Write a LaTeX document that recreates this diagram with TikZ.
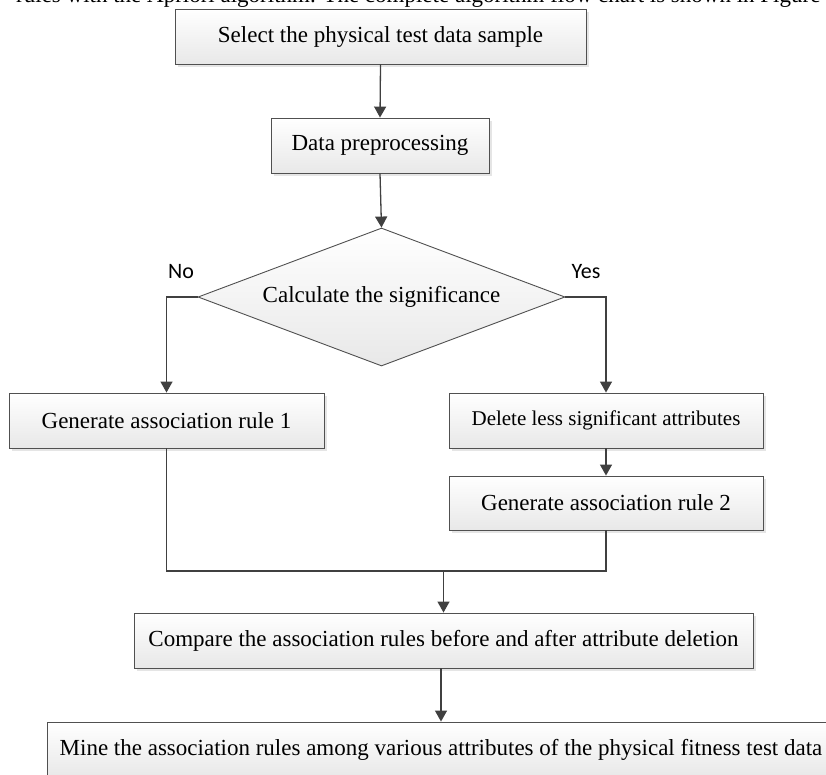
\documentclass[tikz,border=0pt]{standalone}
\usepackage{fontspec}
\setmainfont{Liberation Serif}
\newfontfamily\labfont{Carlito}
\usetikzlibrary{arrows.meta,shapes.geometric,shadows,calc}
\definecolor{linecol}{HTML}{404040}
\definecolor{bordercol}{HTML}{505050}
\tikzset{
  procbox/.style={draw=bordercol, line width=0.9pt, rectangle, inner sep=0pt,
    top color=white, bottom color=black!9,
    drop shadow={shadow xshift=3pt, shadow yshift=-3pt, fill=black!20},
    font=\fontsize{23}{27}\selectfont},
  decbox/.style={draw=bordercol, line width=0.9pt, diamond, inner sep=0pt, aspect=2.66,
    top color=white, bottom color=black!9,
    minimum width=367pt, minimum height=138pt,
    font=\fontsize{23}{27}\selectfont},
  arr/.style={draw=linecol, line width=1.3pt, -{Triangle[length=11pt,width=12pt]}},
  conn/.style={draw=linecol, line width=1.3pt},
  lab/.style={font=\labfont\fontsize{22}{26}\selectfont, inner sep=0pt}
}
\begin{document}
\begin{tikzpicture}[x=1pt,y=-1pt]
\useasboundingbox (0,0) rectangle (826,774);
\clip (0,0) rectangle (826,774);
\node[anchor=south west, inner sep=0pt, font=\fontsize{23}{27}\selectfont] (top) at (16,8)
  {rules with the Apriori algorithm. The complete algorithm flow chart is shown in Figure};
\node[procbox, minimum width=411pt, minimum height=55pt] (b1) at (380.5,36.5) {Select the physical test data sample};
\node[procbox, minimum width=218pt, minimum height=55pt] (b2) at (380,145.5) {Data preprocessing};
\node[decbox] (dia) at (381.5,297) {Calculate the significance};
\node[lab] (no) at (181,272) {No};
\node[lab] (yes) at (586,272) {Yes};
\node[procbox, minimum width=315pt, minimum height=55pt] (r1) at (166.5,420.5) {Generate association rule 1};
\node[procbox, minimum width=314pt, minimum height=55pt, font=\fontsize{21}{25}\selectfont] (del) at (606,420.5) {Delete less significant attributes};
\node[procbox, minimum width=314pt, minimum height=54pt] (r2) at (606,503) {Generate association rule 2};
\node[procbox, minimum width=619pt, minimum height=55pt] (cmp) at (443.5,640.5) {Compare the association rules before and after attribute deletion};
\node[procbox, minimum width=788pt, minimum height=55pt] (last) at (441,749.5) {Mine the association rules among various attributes of the physical fitness test data};
\coordinate (j) at (443.5,571);
\draw[arr] (b1.south) -- (b2.north);
\draw[arr] (b2.south) -- (dia.north);
\draw[arr] (dia.west) -| (r1.north);
\draw[arr] (dia.east) -| (del.north);
\draw[arr] (del.south) -- (r2.north);
\draw[conn] (r1.south) |- (j) -| (r2.south);
\draw[arr] (j) -- (cmp.north);
\draw[arr] (cmp.south -| last.north) -- (last.north);
\end{tikzpicture}
\end{document}
